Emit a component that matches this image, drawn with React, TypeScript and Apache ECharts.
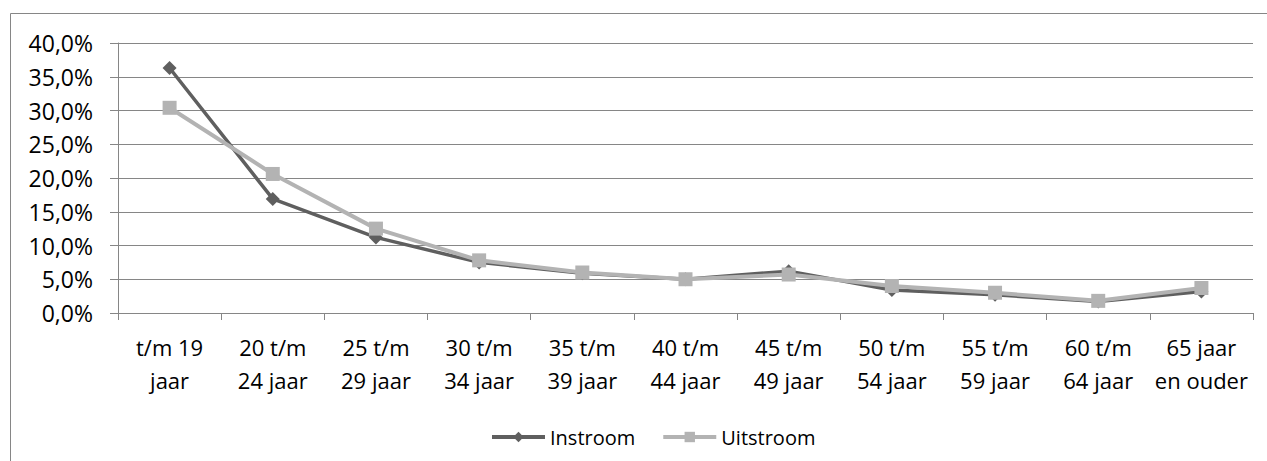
import React, { useEffect, useRef } from "react";
import * as echarts from "echarts";

const categories = [
  "t/m 19\njaar",
  "20 t/m\n24 jaar",
  "25 t/m\n29 jaar",
  "30 t/m\n34 jaar",
  "35 t/m\n39 jaar",
  "40 t/m\n44 jaar",
  "45 t/m\n49 jaar",
  "50 t/m\n54 jaar",
  "55 t/m\n59 jaar",
  "60 t/m\n64 jaar",
  "65 jaar\nen ouder",
];
const instroom = [36.3, 16.9, 11.2, 7.5, 5.9, 5.0, 6.2, 3.4, 2.7, 1.7, 3.2];
const uitstroom = [30.4, 20.6, 12.5, 7.8, 6.0, 5.0, 5.7, 4.0, 3.0, 1.8, 3.7];
const seriesNames = ["Instroom", "Uitstroom"];

const FONT = "'Open Sans', sans-serif";
const GRID = "#868686";
const DARK = "#5f5f5f";
const LIGHT = "#b3b3b3";

export default function App() {
  const ref = useRef<HTMLDivElement>(null);
  useEffect(() => {
    if (!ref.current) return;
    const chart = echarts.init(ref.current, null, { renderer: "svg" });
    chart.setOption({
      animation: false,
      backgroundColor: "#ffffff",
      textStyle: { fontFamily: FONT },
      graphic: [
        {
          type: "rect",
          shape: { x: 10.5, y: 13.5, width: 1270, height: 470 },
          style: { fill: "none", stroke: GRID, lineWidth: 1 },
          silent: true,
        },
      ],
      grid: { left: 118, right: 14, top: 43, bottom: 148, containLabel: false },
      legend: {
        left: 490,
        top: 427,
        padding: 0,
        itemWidth: 53,
        itemHeight: 13,
        itemGap: 26,
        textStyle: { fontFamily: FONT, fontSize: 20, color: "#000" },
        data: [
          { name: seriesNames[0], lineStyle: { width: 4 } },
          { name: seriesNames[1], lineStyle: { width: 4 } },
        ],
      },
      xAxis: {
        type: "category",
        data: categories,
        boundaryGap: true,
        axisLine: { show: true, lineStyle: { color: GRID, width: 1 } },
        axisTick: { show: true, length: 7, lineStyle: { color: GRID }, alignWithLabel: false },
        axisLabel: {
          interval: 0,
          fontFamily: FONT,
          fontSize: 22,
          color: "#000",
          lineHeight: 33,
          margin: 17,
        },
      },
      yAxis: {
        type: "value",
        min: 0,
        max: 40,
        interval: 5,
        axisLine: { show: true, lineStyle: { color: GRID, width: 1 } },
        axisTick: { show: true, length: 8, lineStyle: { color: GRID } },
        splitLine: { show: true, lineStyle: { color: GRID, width: 1 } },
        axisLabel: {
          fontFamily: FONT,
          fontSize: 23,
          color: "#000",
          margin: 25,
          formatter: (v: number) => v.toFixed(1).replace(".", ",") + "%",
        },
      },
      series: [
        {
          name: seriesNames[0],
          type: "line",
          data: instroom,
          symbol: "diamond",
          symbolSize: 14,
          color: DARK,
          lineStyle: { color: DARK, width: 3.5 },
          itemStyle: { color: DARK },
          z: 2,
        },
        {
          name: seriesNames[1],
          type: "line",
          data: uitstroom,
          symbol: "rect",
          symbolSize: 14,
          color: LIGHT,
          lineStyle: { color: LIGHT, width: 4 },
          itemStyle: { color: LIGHT },
          z: 3,
        },
      ],
    });
    return () => chart.dispose();
  }, []);
  return (
    <div
      ref={ref}
      style={{ position: "fixed", left: 0, top: 0, width: 1267, height: 461 }}
    />
  );
}
